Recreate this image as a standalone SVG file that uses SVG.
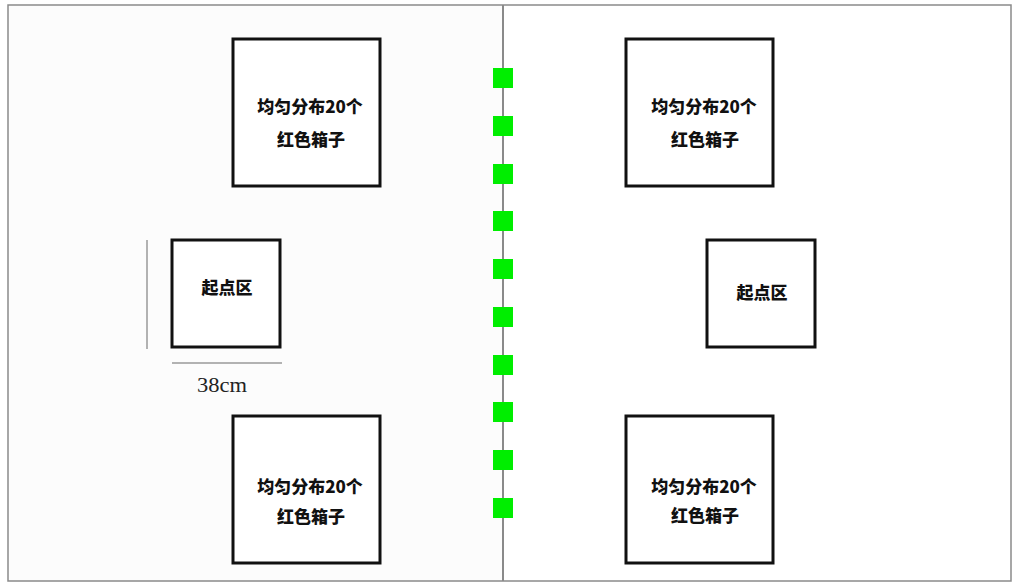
<svg xmlns="http://www.w3.org/2000/svg" width="1012" height="583" viewBox="0 0 1012 583">
<style>
.box{fill:#fff;stroke:#111;stroke-width:3}
.t{font-family:"Noto Sans CJK SC","Noto Sans",sans-serif;font-weight:900;font-size:17px;fill:#111;text-anchor:middle}
.g{fill:#00ee00}
.dim{stroke:#9a9a9a;stroke-width:1.5;fill:none}
</style>
<rect x="0" y="0" width="1012" height="583" fill="#fff"/>
<rect x="8" y="5" width="495" height="576" fill="#fcfcfc"/>
<rect x="8" y="5" width="1003" height="576" fill="none" stroke="#8a8a8a" stroke-width="1.5"/>
<g id="connectors">
<line x1="503" y1="5" x2="503" y2="581" stroke="#8a8a8a" stroke-width="2"/>
<line class="dim" x1="147" y1="240" x2="147" y2="349"/>
<line class="dim" x1="172" y1="363" x2="282" y2="363"/>
</g>
<g id="markers">
<rect class="g" x="493" y="68" width="20" height="20"/>
<rect class="g" x="493" y="116" width="20" height="20"/>
<rect class="g" x="493" y="164" width="20" height="20"/>
<rect class="g" x="493" y="211" width="20" height="20"/>
<rect class="g" x="493" y="259" width="20" height="20"/>
<rect class="g" x="493" y="307" width="20" height="20"/>
<rect class="g" x="493" y="355" width="20" height="20"/>
<rect class="g" x="493" y="402" width="20" height="20"/>
<rect class="g" x="493" y="450" width="20" height="20"/>
<rect class="g" x="493" y="498" width="20" height="20"/>
</g>
<g id="box-tl">
<rect class="box" x="233" y="39" width="147" height="147"/>
<text class="t" x="310" y="113">均匀分布20个</text>
<text class="t" x="311" y="146">红色箱子</text>
</g>
<g id="box-bl">
<rect class="box" x="233" y="416" width="147" height="147"/>
<text class="t" x="310" y="493">均匀分布20个</text>
<text class="t" x="311" y="523">红色箱子</text>
</g>
<g id="box-tr">
<rect class="box" x="626" y="39" width="147" height="147"/>
<text class="t" x="704" y="113">均匀分布20个</text>
<text class="t" x="705" y="146">红色箱子</text>
</g>
<g id="box-br">
<rect class="box" x="626" y="416" width="147" height="147"/>
<text class="t" x="704" y="493">均匀分布20个</text>
<text class="t" x="705" y="522">红色箱子</text>
</g>
<g id="start-l">
<rect class="box" x="172" y="240" width="108" height="107"/>
<text class="t" x="227" y="294">起点区</text>
</g>
<g id="start-r">
<rect class="box" x="707" y="240" width="108" height="107"/>
<text class="t" x="762" y="299">起点区</text>
</g>
<text x="197" y="392" font-family="Liberation Serif,serif" font-size="20" fill="#222" textLength="50" lengthAdjust="spacingAndGlyphs">38cm</text>
</svg>
